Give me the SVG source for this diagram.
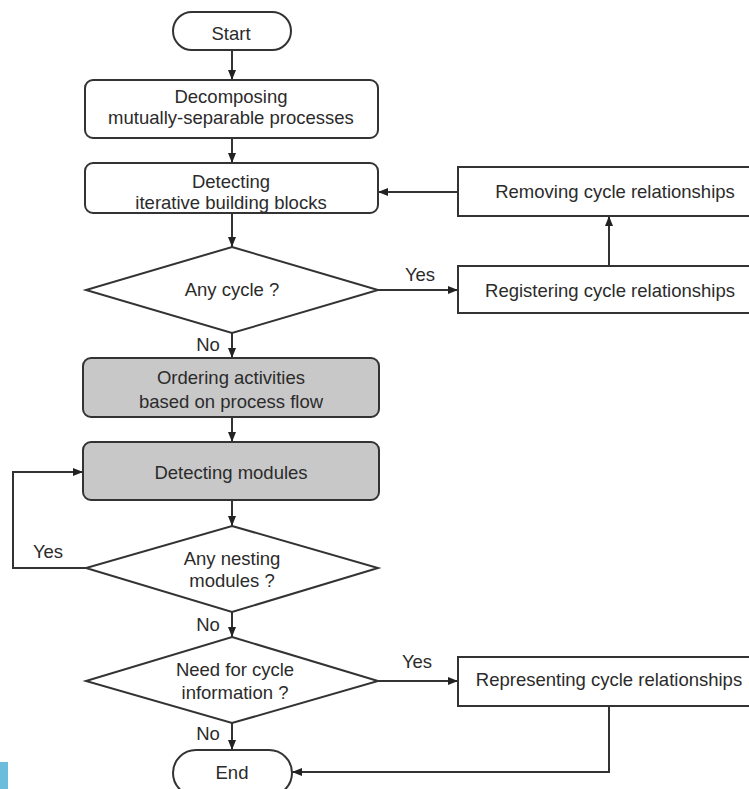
<svg xmlns="http://www.w3.org/2000/svg" width="749" height="789" viewBox="0 0 749 789">
<defs>
<marker id="arr" markerWidth="10" markerHeight="8" refX="10" refY="4" orient="auto" markerUnits="userSpaceOnUse">
<path d="M0,0 L10,4 L0,8 Z" fill="#222"/>
</marker>
<style>
.box{fill:#fff;stroke:#333;stroke-width:2}
.gray{fill:#c8c8c8;stroke:#333;stroke-width:2}
.t{font-family:"Liberation Sans",Arial,sans-serif;font-size:18.5px;fill:#2b2b2b;text-anchor:middle}
.c{fill:none;stroke:#333;stroke-width:2}
</style>
</defs>
<rect x="0" y="0" width="749" height="789" fill="#fff"/>
<g id="connectors">
<line class="c" x1="232" y1="50" x2="232" y2="80" marker-end="url(#arr)"/>
<line class="c" x1="232" y1="138" x2="232" y2="163" marker-end="url(#arr)"/>
<line class="c" x1="232" y1="213" x2="232" y2="247" marker-end="url(#arr)"/>
<line class="c" x1="378" y1="290" x2="458" y2="290" marker-end="url(#arr)"/>
<text class="t" x="420" y="281">Yes</text>
<line class="c" x1="609" y1="266" x2="609" y2="216" marker-end="url(#arr)"/>
<line class="c" x1="458" y1="192" x2="378" y2="192" marker-end="url(#arr)"/>
<line class="c" x1="232" y1="333" x2="232" y2="358" marker-end="url(#arr)"/>
<text class="t" x="208" y="351">No</text>
<line class="c" x1="232" y1="417" x2="232" y2="442" marker-end="url(#arr)"/>
<line class="c" x1="232" y1="500" x2="232" y2="526" marker-end="url(#arr)"/>
<polyline class="c" points="86,568 13,568 13,472 83,472" marker-end="url(#arr)"/>
<text class="t" x="48" y="558">Yes</text>
<line class="c" x1="232" y1="612" x2="232" y2="637" marker-end="url(#arr)"/>
<text class="t" x="208" y="631">No</text>
<line class="c" x1="378" y1="681" x2="458" y2="681" marker-end="url(#arr)"/>
<text class="t" x="417" y="668">Yes</text>
<polyline class="c" points="609,706 609,772 292,772" marker-end="url(#arr)"/>
<line class="c" x1="232" y1="723" x2="232" y2="750" marker-end="url(#arr)"/>
<text class="t" x="208" y="740">No</text>
</g>
<g id="start">
<rect class="box" x="173" y="12" width="118" height="38" rx="19"/>
<text class="t" x="231" y="40">Start</text>
</g>
<g id="decomposing">
<rect class="box" x="85" y="80" width="293" height="58" rx="8"/>
<text class="t" x="231" y="103">Decomposing</text>
<text class="t" x="231" y="124">mutually-separable processes</text>
</g>
<g id="detecting-blocks">
<rect class="box" x="85" y="163" width="293" height="50" rx="8"/>
<text class="t" x="231" y="188">Detecting</text>
<text class="t" x="231" y="209">iterative building blocks</text>
</g>
<g id="any-cycle">
<polygon class="box" points="232,247 378,290 232,333 86,290"/>
<text class="t" x="232" y="296">Any cycle ?</text>
</g>
<g id="registering">
<rect class="box" x="458" y="266" width="310" height="47"/>
<text class="t" x="610" y="297">Registering cycle relationships</text>
</g>
<g id="removing">
<rect class="box" x="458" y="167" width="310" height="49"/>
<text class="t" x="615" y="198">Removing cycle relationships</text>
</g>
<g id="ordering">
<rect class="gray" x="83" y="358" width="296" height="59" rx="8"/>
<text class="t" x="231" y="384">Ordering activities</text>
<text class="t" x="231" y="408">based on process flow</text>
</g>
<g id="detecting-modules">
<rect class="gray" x="83" y="442" width="296" height="58" rx="8"/>
<text class="t" x="231" y="479">Detecting modules</text>
</g>
<g id="nesting">
<polygon class="box" points="232,526 378,568 232,612 86,568"/>
<text class="t" x="232" y="565">Any nesting</text>
<text class="t" x="232" y="587">modules ?</text>
</g>
<g id="need-info">
<polygon class="box" points="232,637 378,681 232,723 86,681"/>
<text class="t" x="235" y="676">Need for cycle</text>
<text class="t" x="235" y="699">information ?</text>
</g>
<g id="representing">
<rect class="box" x="458" y="657" width="310" height="49"/>
<text class="t" x="609" y="686">Representing cycle relationships</text>
</g>
<g id="end">
<rect class="box" x="173" y="750" width="119" height="46" rx="23"/>
<text class="t" x="232" y="779">End</text>
</g>
<rect x="0" y="762" width="8" height="27" fill="#6cbcdc"/>
</svg>
